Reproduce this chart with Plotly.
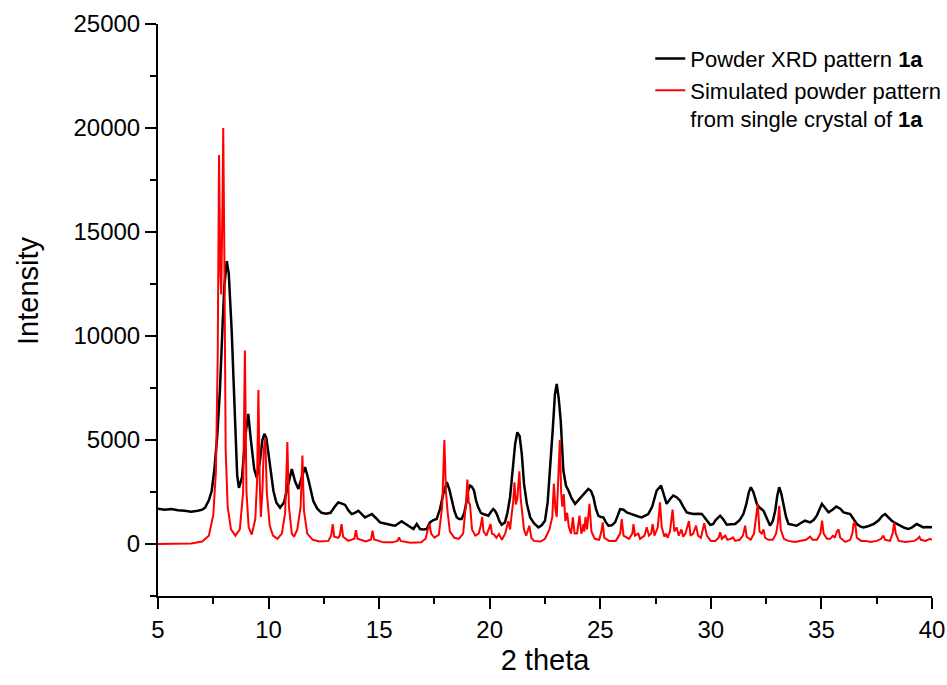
import plotly.graph_objects as go

# 2 theta / intensity (black)
xrd_x = [5.0, 5.3, 5.6, 5.9, 6.2, 6.5, 6.8, 7.0, 7.13, 7.3, 7.43, 7.55, 7.68, 7.8, 7.92, 8.0, 8.11, 8.2, 8.33, 8.48,
         8.58, 8.66, 8.8, 8.95, 9.08, 9.2, 9.35, 9.46, 9.6, 9.72, 9.81, 9.9, 10.05, 10.22, 10.35, 10.52, 10.7, 10.85,
         11.05, 11.2, 11.35, 11.5, 11.65, 11.8, 12.02, 12.2, 12.4, 12.6, 12.8, 13.0, 13.15, 13.3, 13.46, 13.62, 13.76,
         13.9, 14.06, 14.2, 14.36, 14.5, 14.67, 14.85, 15.04, 15.2, 15.42, 15.6, 15.72, 15.88, 16.02, 16.15, 16.32,
         16.45, 16.55, 16.7, 16.85, 17.0, 17.15, 17.3, 17.45, 17.6, 17.75, 17.9, 18.06, 18.18, 18.28, 18.4, 18.51,
         18.62, 18.73, 18.85, 18.96, 19.03, 19.11, 19.2, 19.29, 19.38, 19.48, 19.6, 19.71, 19.82, 19.94, 20.06, 20.16,
         20.24, 20.32, 20.44, 20.54, 20.69, 20.8, 20.92, 21.05, 21.15, 21.25, 21.35, 21.45, 21.55, 21.68, 21.83, 22.0,
         22.2, 22.35, 22.5, 22.62, 22.73, 22.85, 22.95, 23.03, 23.12, 23.21, 23.33, 23.45, 23.56, 23.7, 23.86, 24.0,
         24.16, 24.3, 24.46, 24.58, 24.69, 24.8, 24.91, 25.02, 25.14, 25.25, 25.37, 25.52, 25.67, 25.8, 25.9, 26.05,
         26.2, 26.38, 26.57, 26.72, 26.87, 27.0, 27.17, 27.35, 27.55, 27.75, 27.88, 28.0, 28.15, 28.3, 28.45, 28.61,
         28.75, 28.91, 29.05, 29.21, 29.4, 29.59, 29.7, 29.82, 29.97, 30.1, 30.22, 30.34, 30.42, 30.55, 30.72, 30.9,
         31.1, 31.3, 31.47, 31.6, 31.72, 31.81, 31.92, 32.08, 32.2, 32.38, 32.55, 32.68, 32.8, 32.91, 33.0, 33.09,
         33.18, 33.28, 33.4, 33.51, 33.7, 33.88, 34.05, 34.26, 34.49, 34.65, 34.79, 34.9, 35.02, 35.15, 35.32, 35.5,
         35.67, 35.85, 36.0, 36.15, 36.3, 36.45, 36.6, 36.75, 36.9, 37.1, 37.36, 37.6, 37.75, 37.88, 38.0, 38.18,
         38.35, 38.56, 38.75, 38.93, 39.1, 39.31, 39.45, 39.61, 39.8, 40.0]
xrd_y = [1700, 1650, 1680, 1620, 1600, 1550, 1600, 1650, 1750, 2100, 2560, 3600, 5200, 7400, 10500, 12400, 13600, 13000, 10300, 5450,
         3300, 2700, 3200, 5200, 6250, 5000, 3600, 3200, 3900, 5000, 5300, 5100, 3800, 2550, 2000, 1750, 2000, 2700,
         3600, 3000, 2650, 3200, 3700, 3100, 2080, 1700, 1500, 1450, 1500, 1800, 2000, 1950, 1880, 1600, 1440,
         1500, 1600, 1450, 1280, 1350, 1440, 1250, 1040, 1000, 930, 900, 880, 1000, 1090, 1000, 880,
         800, 720, 960, 720, 700, 720, 1040, 1150, 1200, 1680, 2400, 2970, 2600, 2080, 1600, 1280,
         1200, 1200, 1500, 2080, 2600, 2810, 2750, 2570, 2100, 1760, 1500, 1440, 1400, 1360, 1550, 1680,
         1600, 1440, 1100, 930, 1040, 1500, 2240, 3700, 4810, 5370, 5200, 4330, 2900, 1930, 1280, 1000,
         800, 900, 1120, 2000, 3530, 5500, 7200, 7700, 7000, 5940, 3530, 2800, 2570, 2200, 1930, 2100,
         2330, 2500, 2650, 2550, 2250, 1700, 1360, 1300, 1280, 1050, 880, 900, 1040, 1400, 1680, 1650,
         1520, 1450, 1360, 1320, 1280, 1350, 1440, 1800, 2570, 2810, 2400, 1930, 2150, 2330, 2250, 2080,
         1800, 1520, 1480, 1440, 1450, 1440, 1300, 1120, 920, 950, 1150, 1280, 1360, 1200, 930, 950,
         960, 1150, 1440, 1900, 2500, 2730, 2500, 1930, 1750, 1600, 1200, 880, 1100, 1600, 2300, 2730,
         2450, 1930, 1300, 960, 900, 880, 1000, 1120, 1040, 1150, 1360, 1650, 1930, 1750, 1520, 1650,
         1800, 1700, 1520, 1480, 1440, 1200, 960, 850, 800, 850, 960, 1150, 1350, 1440, 1300, 1120,
         1000, 880, 780, 720, 800, 960, 900, 800, 820, 800]

# simulated pattern from the single crystal structure (red)
sim_x = [5.0, 6.5, 7.0, 7.3, 7.5, 7.62, 7.7, 7.76, 7.82, 7.86, 7.91, 7.95, 8.0, 8.06, 8.15, 8.3, 8.5, 8.7, 8.85, 8.93,
         9.0, 9.1, 9.24, 9.4, 9.48, 9.54, 9.6, 9.65, 9.72, 9.78, 9.85, 9.92, 10.05, 10.2, 10.4, 10.6, 10.75, 10.85,
         10.92, 11.05, 11.15, 11.3, 11.45, 11.53, 11.6, 11.75, 12.0, 12.3, 12.7, 12.83, 12.9, 12.97, 13.15, 13.22,
         13.3, 13.37, 13.6, 13.88, 13.95, 14.02, 14.4, 14.63, 14.7, 14.77, 15.2, 15.6, 15.83, 15.9, 15.97, 16.4,
         16.9, 17.1, 17.2, 17.28, 17.35, 17.5, 17.7, 17.85, 17.95, 18.02, 18.1, 18.2, 18.4, 18.6, 18.8, 18.93,
         18.99, 19.05, 19.11, 19.2, 19.35, 19.5, 19.6, 19.66, 19.72, 19.85, 19.95, 20.04, 20.1, 20.2, 20.3, 20.42,
         20.55, 20.7, 20.84, 20.92, 21.0, 21.06, 21.12, 21.18, 21.25, 21.34, 21.4, 21.47, 21.55, 21.65, 21.79,
         21.88, 22.0, 22.3, 22.5, 22.7, 22.83, 22.9, 22.97, 23.03, 23.1, 23.17, 23.23, 23.28, 23.35, 23.42, 23.5,
         23.58, 23.68, 23.76, 23.84, 23.95, 24.06, 24.14, 24.2, 24.24, 24.28, 24.33, 24.4, 24.51, 24.6, 24.75,
         24.95, 25.05, 25.11, 25.18, 25.4, 25.7, 25.9, 25.97, 26.05, 26.3, 26.45, 26.5, 26.57, 26.72, 26.8, 27.0,
         27.1, 27.2, 27.3, 27.37, 27.45, 27.6, 27.7, 27.78, 27.9, 27.97, 28.05, 28.15, 28.27, 28.35, 28.45, 28.55,
         28.67, 28.75, 28.85, 29.01, 29.08, 29.2, 29.33, 29.42, 29.55, 29.7, 29.82, 30.0, 30.2, 30.35, 30.42, 30.5,
         30.65, 30.75, 30.9, 31.0, 31.1, 31.3, 31.45, 31.55, 31.62, 31.8, 31.95, 32.05, 32.12, 32.2, 32.3, 32.38,
         32.45, 32.6, 32.8, 32.95, 33.03, 33.09, 33.16, 33.3, 33.5, 33.8, 34.1, 34.3, 34.49, 34.6, 34.8, 34.95,
         35.03, 35.1, 35.25, 35.4, 35.52, 35.6, 35.7, 35.77, 35.85, 36.08, 36.3, 36.4, 36.45, 36.52, 36.6, 36.8,
         37.0, 37.22, 37.5, 37.7, 37.8, 37.88, 38.1, 38.22, 38.29, 38.36, 38.5, 38.8, 39.2, 39.35, 39.43, 39.5,
         39.7, 39.9, 40.0]
sim_y = [0, 20, 120, 400, 1400, 3500, 9000, 18700, 13000, 12000, 16000, 20000, 14000, 4500, 1800, 700, 400, 700, 2500, 9300,
         2500, 800, 450, 1200, 3000, 7400, 3000, 1300, 2500, 4500, 5100, 2500, 900, 400, 250, 500, 1500, 4900,
         1800, 500, 350, 700, 1800, 4250, 1600, 500, 200, 120, 150, 400, 950, 350, 300, 400,
         950, 350, 150, 250, 670, 250, 120, 220, 640, 220, 80, 80, 150, 320, 150, 60,
         80, 250, 700, 960, 500, 300, 450, 1800, 5000, 2500, 1500, 600, 300, 250, 500, 2000,
         3100, 2000, 1900, 700, 400, 500, 900, 1300, 600, 400, 700, 960, 500, 450, 300, 480,
         200, 500, 1100, 700, 1500, 2000, 2970, 1900, 2200, 3500, 2200, 1500, 700, 400, 880,
         300, 150, 120, 250, 700, 1300, 2900, 1700, 1300, 3000, 5000, 2500, 1800, 2400, 1100, 1500,
         800, 500, 1280, 500, 500, 1360, 500, 700, 960, 600, 1300, 700, 1930, 600, 250,
         200, 600, 1040, 300, 150, 150, 500, 1200, 400, 250, 500, 960, 400, 500, 250, 400,
         800, 400, 500, 960, 400, 800, 2000, 800, 350, 500, 300, 600, 1650, 600, 800, 400,
         700, 350, 500, 1100, 400, 500, 880, 400, 300, 1000, 400, 150, 150, 300, 560, 250,
         400, 200, 250, 320, 150, 200, 400, 880, 350, 200, 500, 1200, 1930, 600, 500, 700,
         300, 200, 200, 500, 1000, 1840, 700, 250, 150, 100, 150, 200, 350, 200, 200, 500,
         1120, 500, 250, 250, 400, 300, 600, 700, 300, 100, 200, 500, 960, 1040, 300, 150,
         150, 100, 150, 250, 400, 200, 150, 500, 1040, 500, 150, 100, 150, 250, 350, 200,
         150, 250, 200]

y_ticks = [0, 5000, 10000, 15000, 20000, 25000]
y_labels = ["0", "5000", "10000", "15000", "20000", "25000"]
x_ticks = [5, 10, 15, 20, 25, 30, 35, 40]
x_labels = ["5", "10", "15", "20", "25", "30", "35", "40"]

font = "Liberation Sans, Arial, sans-serif"

fig = go.Figure()
fig.add_trace(go.Scatter(x=xrd_x, y=xrd_y, mode="lines", name="Powder XRD pattern <b>1a</b>",
                         line=dict(color="black", width=2.5)))
fig.add_trace(go.Scatter(x=sim_x, y=sim_y, mode="lines",
                         name="Simulated powder pattern<br>from single crystal of <b>1a</b>",
                         line=dict(color="#ff0000", width=2)))

axis_common = dict(showline=True, linewidth=2, linecolor="black", showgrid=False, zeroline=False,
                   ticks="outside", ticklen=11, tickwidth=2, tickcolor="black", automargin=False,
                   ticklabeloverflow="allow", tickfont=dict(family=font, size=24, color="black"))

fig.update_xaxes(range=[5, 40], tickmode="array", tickvals=x_ticks, ticktext=x_labels,
                 minor=dict(tickmode="linear", tick0=5, dtick=2.5, ticks="outside", ticklen=6,
                            tickwidth=2, tickcolor="black"),
                 title=dict(text="2 theta", font=dict(family=font, size=29, color="black"), standoff=8),
                 **axis_common)
fig.update_yaxes(range=[-2500, 25000], tickmode="array", tickvals=y_ticks, ticktext=y_labels,
                 minor=dict(tickmode="linear", tick0=0, dtick=2500, ticks="outside", ticklen=6,
                            tickwidth=2, tickcolor="black"),
                 **axis_common)

fig.update_layout(width=947, height=685, plot_bgcolor="white", paper_bgcolor="white",
                  margin=dict(l=158, r=15, t=24, b=89, autoexpand=False),
                  annotations=[dict(text="Intensity", textangle=-90, xref="paper", yref="paper",
                                    x=-0.168, y=0.535, xanchor="center", yanchor="middle", showarrow=False,
                                    font=dict(family=font, size=29, color="black"))],
                  legend=dict(x=0.636, y=0.976, xanchor="left", yanchor="top", valign="top",
                              font=dict(family=font, size=22, color="black"),
                              bgcolor="rgba(0,0,0,0)", tracegroupgap=0))

# drop the default page margin so the figure fills the window exactly
fig.write_html("out.html", config={"displayModeBar": False},
               post_script="document.body.style.margin='0';"
                           "document.documentElement.style.overflow='hidden';")
